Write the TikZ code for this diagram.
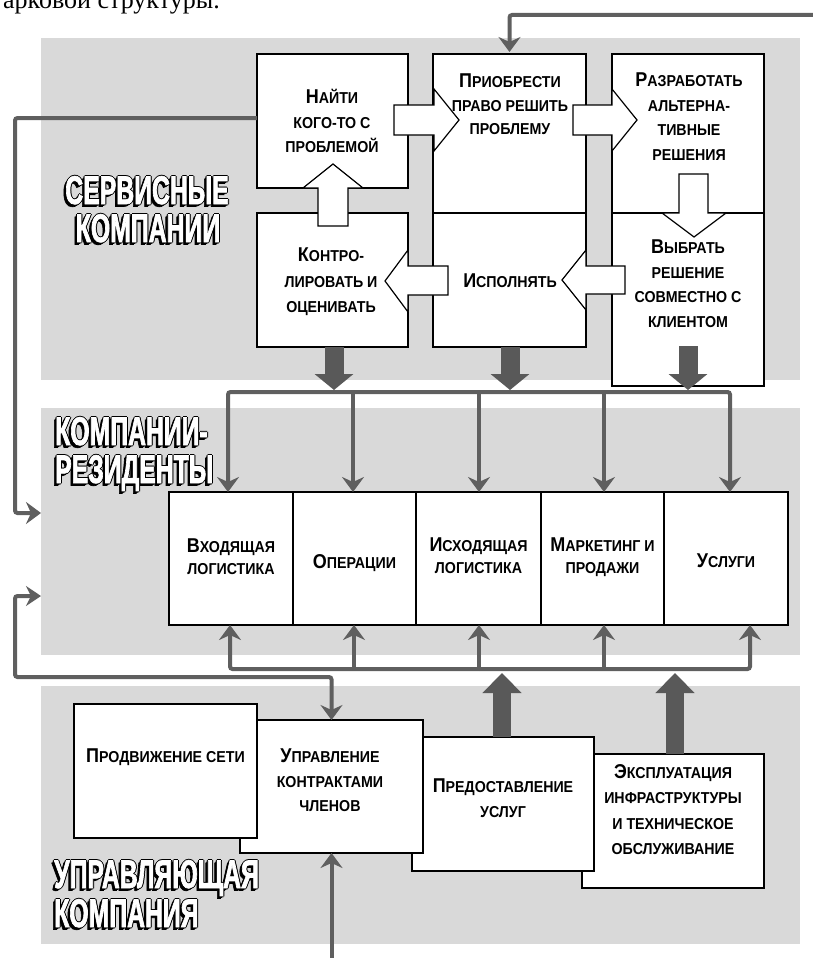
\documentclass[tikz,border=0pt]{standalone}
\usepackage{fontspec}
\setmainfont{Liberation Sans}
\newfontfamily\bx{Liberation Sans}[FakeStretch=0.9]
\newfontfamily\ttlf{Liberation Sans}[FakeStretch=0.62,FakeBold=1.6]
\newfontfamily\serf{Liberation Serif}
\usetikzlibrary{arrows.meta}
\definecolor{panel}{HTML}{D9D9D9}
\definecolor{lgray}{HTML}{5F5F5F}
\definecolor{dgray}{HTML}{595959}
\newcommand\ini[1]{{\fontsize{20}{24}\selectfont #1}}
\newcommand\shadowtxt[1]{\leavevmode
 \rlap{\kern-2.5pt\raisebox{-2.5pt}{\textcolor{black}{#1}}}%
 \rlap{\kern-1.5pt\raisebox{-1.5pt}{\textcolor{black}{#1}}}%
 \rlap{\kern-1pt\textcolor{black}{#1}}%
 \rlap{\kern1pt\textcolor{black}{#1}}%
 \rlap{\raisebox{1pt}{\textcolor{black}{#1}}}%
 \rlap{\raisebox{-1pt}{\textcolor{black}{#1}}}%
 \textcolor{white}{#1}}
\tikzset{
 pnl/.style={fill=panel, draw=none, anchor=north west, inner sep=0pt, outer sep=0pt},
 box/.style={draw=black, line width=1.3pt, fill=white, anchor=north west, inner sep=0pt, outer sep=0pt},
 blk/.style={draw=black, line width=1.2pt, fill=white, line join=miter, miter limit=10},
 lab/.style={font=\bx\bfseries\fontsize{15.8}{24.5}\selectfont, align=center, inner sep=0pt, anchor=north},
 labr/.style={lab, font=\bx\bfseries\fontsize{15.8}{22}\selectfont},
 gl/.style={draw=lgray, line width=4pt, rounded corners=2.5pt},
 fb/.style={gl, -{Stealth[length=15pt,width=22pt,inset=5pt]}},
 fbb/.style={gl, {Stealth[length=15pt,width=20pt,inset=5pt]}-{Stealth[length=15pt,width=22pt,inset=5pt]}},
 fat/.style={draw=dgray, line width=19pt, -{Triangle[length=16pt,width=38pt]}},
 fatu/.style={draw=dgray, line width=18pt, -{Triangle[length=20pt,width=38pt]}},
 ttl/.style={font=\ttlf\bfseries\fontsize{40}{40}\selectfont, inner sep=0pt},
}
\begin{document}
\begin{tikzpicture}[x=1pt,y=-1pt]
\useasboundingbox (0,0) rectangle (813,958);
% top text (cut)
\node[font=\serf\fontsize{26}{26}\selectfont, anchor=base west, inner sep=0pt] (toptxt) at (3,9) {арковой структуры.};
% panels
\node[pnl, minimum width=759pt, minimum height=342pt] (psvc) at (41,38) {};
\node[pnl, minimum width=759pt, minimum height=247pt] (pres) at (41,408) {};
\node[pnl, minimum width=759pt, minimum height=258pt] (pmgt) at (41,686) {};
% titles
\node[ttl, anchor=base] (t1a) at (147,204) {\shadowtxt{СЕРВИСНЫЕ}};
\node[ttl, anchor=base] (t1b) at (148,242) {\shadowtxt{КОМПАНИИ}};
\node[ttl, anchor=base west] (t2a) at (55,445) {\shadowtxt{КОМПАНИИ-}};
\node[ttl, anchor=base west] (t2b) at (55,483) {\shadowtxt{РЕЗИДЕНТЫ}};
\node[ttl, anchor=base west] (t3a) at (54,888) {\shadowtxt{УПРАВЛЯЮЩАЯ}};
\node[ttl, anchor=base west] (t3b) at (54,927) {\shadowtxt{КОМПАНИЯ}};
% service boxes
\node[box, minimum width=151pt, minimum height=134pt] (s1) at (257,54) {};
\node[box, minimum width=153pt, minimum height=159pt] (s2) at (433,54) {};
\node[box, minimum width=152pt, minimum height=159pt] (s3) at (612,54) {};
\node[box, minimum width=151pt, minimum height=134pt] (s4) at (257,213) {};
\node[box, minimum width=153pt, minimum height=134pt] (s5) at (433,213) {};
\node[box, minimum width=152pt, minimum height=173pt] (s6) at (612,213) {};
% resident boxes
\node[box, minimum width=124pt, minimum height=133pt] (r1) at (169,492) {};
\node[box, minimum width=123pt, minimum height=133pt] (r2) at (293,492) {};
\node[box, minimum width=125pt, minimum height=133pt] (r3) at (416,492) {};
\node[box, minimum width=123pt, minimum height=133pt] (r4) at (541,492) {};
\node[box, minimum width=124pt, minimum height=133pt] (r5) at (664,492) {};
% management boxes
\node[box, minimum width=182pt, minimum height=134pt] (m4) at (582,754) {};
\node[box, minimum width=182pt, minimum height=134pt] (m3) at (412,737) {};
\node[box, minimum width=183pt, minimum height=133pt] (m2) at (240,720) {};
\node[box, minimum width=183pt, minimum height=134pt] (m1) at (74,704) {};
% white block arrows
\draw[blk] (394,105) -- (434,105) -- (434,89) -- (459,120) -- (434,151) -- (434,135) -- (394,135) -- cycle;
\draw[blk] (573,105) -- (612,105) -- (612,89) -- (637,120) -- (612,151) -- (612,135) -- (573,135) -- cycle;
\draw[blk] (679,174) -- (708,174) -- (708,213) -- (726,213) -- (694,237) -- (662,213) -- (679,213) -- cycle;
\draw[blk] (625,266) -- (586,266) -- (586,250) -- (562,280) -- (586,310) -- (586,294) -- (625,294) -- cycle;
\draw[blk] (448,266) -- (408,266) -- (408,250) -- (385,281) -- (408,312) -- (408,295) -- (448,295) -- cycle;
\draw[blk] (318,226) -- (318,188) -- (303,188) -- (333,164) -- (363,188) -- (348,188) -- (348,226) -- cycle;
% texts
\node[lab] (x1) at (332,89) {\ini{Н}АЙТИ\\КОГО-ТО С\\ПРОБЛЕМОЙ};
\node[lab, font=\bx\bfseries\fontsize{15.8}{23.5}\selectfont] (x2) at (510,74) {\ini{П}РИОБРЕСТИ\\ПРАВО РЕШИТЬ\\ПРОБЛЕМУ};
\node[lab] (x3) at (689,73) {\ini{Р}АЗРАБОТАТЬ\\АЛЬТЕРНА-\\ТИВНЫЕ\\РЕШЕНИЯ};
\node[lab, font=\bx\bfseries\fontsize{15.8}{25.5}\selectfont] (x4) at (331,248) {\ini{К}ОНТРО-\\ЛИРОВАТЬ И\\ОЦЕНИВАТЬ};
\node[lab] (x5) at (510,274) {\ini{И}СПОЛНЯТЬ};
\node[lab] (x6) at (688,240) {\ini{В}ЫБРАТЬ\\РЕШЕНИЕ\\СОВМЕСТНО С\\КЛИЕНТОМ};
\node[labr] (y1) at (231,539) {\ini{В}ХОДЯЩАЯ\\ЛОГИСТИКА};
\node[labr] (y2) at (354.5,554) {\ini{О}ПЕРАЦИИ};
\node[labr] (y3) at (478.5,538) {\ini{И}СХОДЯЩАЯ\\ЛОГИСТИКА};
\node[labr] (y4) at (602.5,538) {\ini{М}АРКЕТИНГ И\\ПРОДАЖИ};
\node[labr] (y5) at (726,554) {\ini{У}СЛУГИ};
\node[lab] (z1) at (165.5,749) {\ini{П}РОДВИЖЕНИЕ СЕТИ};
\node[lab] (z2) at (330,749) {\ini{У}ПРАВЛЕНИЕ\\КОНТРАКТАМИ\\ЧЛЕНОВ};
\node[lab] (z3) at (503,779) {\ini{П}РЕДОСТАВЛЕНИЕ\\УСЛУГ};
\node[lab, font=\bx\bfseries\fontsize{15.8}{25.5}\selectfont] (z4) at (673,764) {\ini{Э}КСПЛУАТАЦИЯ\\ИНФРАСТРУКТУРЫ\\И ТЕХНИЧЕСКОЕ\\ОБСЛУЖИВАНИЕ};
% feedback connectors
\coordinate (topin) at (813,15);
\draw[fb] (topin) -| ([yshift=2pt]s2.north);
\coordinate (resA) at (41,513);
\coordinate (resB) at (41,596);
\draw[fb] ([yshift=3pt]s1.west) -| (15,300) |- (resA);
\draw[fbb] (resB) -| (15,677) -| (m2.north);
\coordinate (botin) at (331.5,958);
\draw[fb] (botin) -- (m2.south);
% distribution top
\draw[fb] (480,392) -| (r1.north -| 228,0);
\draw[fb] (480,392) -| (r5.north -| 730,0);
\draw[fb] (353,392) -- (r2.north -| 353,0);
\draw[fb] (479,392) -- (r3.north -| 479,0);
\draw[fb] (604,392) -- (r4.north -| 604,0);
% distribution bottom
\draw[fb] (479,669) -| (r1.south -| 230,0);
\draw[fb] (479,669) -| (r5.south -| 750,0);
\draw[fb] (354,669) -- (r2.south -| 354,0);
\draw[fb] (479,669) -- (r3.south -| 479,0);
\draw[fb] (604,669) -- (r4.south -| 604,0);
% thick arrows
\draw[fat] (s4.south -| 334,0) -- (334,390);
\draw[fat] (s5.south -| 510,0) -- (510,390);
\draw[fat] (688,346) -- (688,390);
\draw[fatu] (m3.north -| 502,0) -- (502,673);
\draw[fatu] (m4.north -| 675,0) -- (675,673);
\end{tikzpicture}
\end{document}
